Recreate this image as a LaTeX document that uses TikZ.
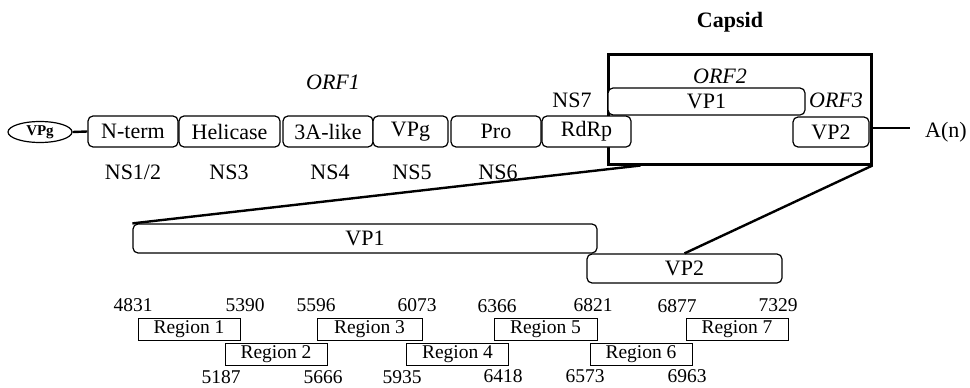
\documentclass[tikz,border=0pt]{standalone}
\usepackage{fontspec}
\setmainfont{Liberation Serif}
\usetikzlibrary{calc,shapes.geometric}
\begin{document}
\begin{tikzpicture}[x=1pt,y=-1pt,
  gene/.style={draw,fill=white,rounded corners=5pt,line width=1.2pt,inner sep=0pt,font=\fontsize{22}{24}\selectfont},
  region/.style={draw,line width=1pt,inner sep=0pt,minimum height=22pt,minimum width=102pt,font=\fontsize{19.5}{21}\selectfont},
  lbl/.style={inner sep=0pt,font=\fontsize{22}{24}\selectfont},
  num/.style={inner sep=0pt,font=\fontsize{19.5}{21}\selectfont},
  conn/.style={line width=2.4pt}]
\useasboundingbox (0,0) rectangle (970,388);
% capsid (drawn first so boxes sit over it)
\node[draw,line width=3pt,minimum width=263pt,minimum height=110pt,inner sep=0pt] (capsid) at (739.5,109) {};
% top genome
\node[draw,ellipse,line width=1.2pt,minimum width=64pt,minimum height=21pt,inner sep=0pt,font=\fontsize{15}{16}\selectfont\bfseries] (vpg0) at (40,132) {VPg};
\node[gene,minimum width=90pt,minimum height=31pt] (nterm) at (133,131.5) {N-term};
\node[gene,minimum width=101pt,minimum height=31pt] (heli) at (229.5,131.5) {Helicase};
\node[gene,minimum width=90pt,minimum height=31pt] (a3) at (328,131.5) {3A-like};
\node[gene,minimum width=75pt,minimum height=31pt] (vpg) at (410.5,131.5) {VPg};
\node[gene,minimum width=90pt,minimum height=31pt] (pro) at (496,131.5) {Pro};
\node[gene,minimum width=89pt,minimum height=31pt] (rdrp) at (586.5,131.5) {RdRp};
\draw[conn] (vpg0.east) -- (nterm.west);
\node[lbl] (ns12) at (133,172) {NS1/2};
\node[lbl] (ns3) at (229,172) {NS3};
\node[lbl] (ns4) at (330,172) {NS4};
\node[lbl] (ns5) at (412,172) {NS5};
\node[lbl] (ns6) at (498,172) {NS6};
\node[lbl] (ns7) at (572,100) {NS7};
\node[lbl,font=\fontsize{22}{24}\selectfont\itshape] (orf1) at (333,82) {ORF1};
\node[lbl,font=\fontsize{22}{24}\selectfont\bfseries] (captitle) at (730,22) {Capsid};
\node[lbl,font=\fontsize{22}{24}\selectfont\itshape] (orf2) at (720,76) {ORF2};
\node[lbl,font=\fontsize{22}{24}\selectfont\itshape] (orf3) at (836,100) {ORF3};
\node[gene,minimum width=197pt,minimum height=27pt] (vp1t) at (706.5,101.5) {VP1};
\node[gene,minimum width=76pt,minimum height=30pt] (vp2t) at (831,132) {VP2};
\node[lbl,anchor=west] (an) at (925,132) {A(n)};
\coordinate (anend) at (910,128);
\draw[conn] (capsid.east |- anend) -- (anend);
% lower
\node[gene,minimum width=464pt,minimum height=29pt] (vp1) at (365,238.5) {VP1};
\node[gene,minimum width=195pt,minimum height=29pt] (vp2) at (684.5,268.5) {VP2};
\coordinate (cap1) at ($(capsid.south west)+(34,0)$);
\draw[conn] (cap1) -- (vp1.north west);
\draw[conn] (capsid.south east) -- (vp2.north);
% regions
\node[region] (r1) at (189,329) {Region 1};
\node[region] (r2) at (276,354) {Region 2};
\node[region,minimum width=105pt] (r3) at (369.5,329) {Region 3};
\node[region] (r4) at (457.5,354) {Region 4};
\node[region,minimum width=103pt] (r5) at (545.5,329) {Region 5};
\node[region] (r6) at (641,354) {Region 6};
\node[region] (r7) at (737,329) {Region 7};
\node[num] (n4831) at (133,305) {4831};
\node[num] (n5390) at (245,305) {5390};
\node[num] (n5596) at (316,305) {5596};
\node[num] (n6073) at (417,305) {6073};
\node[num] (n6366) at (497,306) {6366};
\node[num] (n6821) at (593,305) {6821};
\node[num] (n6877) at (677,306) {6877};
\node[num] (n7329) at (778,305) {7329};
\node[num] (n5187) at (221,377) {5187};
\node[num] (n5666) at (323,377) {5666};
\node[num] (n5935) at (402,377) {5935};
\node[num] (n6418) at (503,376) {6418};
\node[num] (n6573) at (585,376) {6573};
\node[num] (n6963) at (687,376) {6963};
\end{tikzpicture}
\end{document}
